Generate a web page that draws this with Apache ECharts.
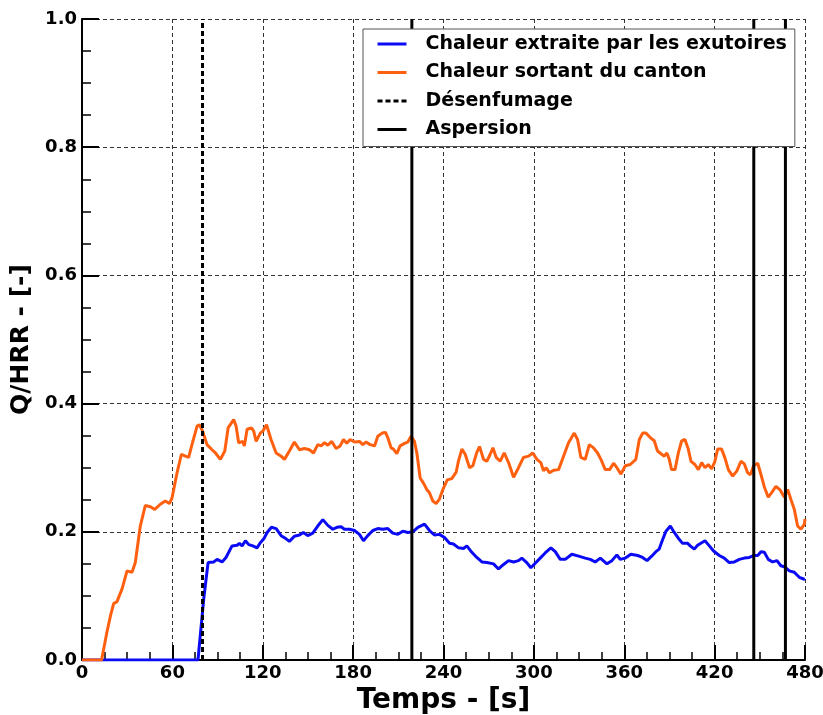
<!DOCTYPE html>
<html>
<head>
<meta charset="utf-8">
<script src="https://cdn.jsdelivr.net/npm/echarts@6/dist/echarts.min.js"></script>
<style>
  html, body { margin: 0; padding: 0; background: #fff; }
  #chart { width: 823px; height: 715px; }
</style>
</head>
<body>
<div id="chart"></div>
<script>
// temps (s) et Q/HRR
const tExtraite = [0, 77, 80.8, 83.7, 87.5, 89.7, 93, 95.6, 99.6, 103, 104.5, 106.3, 108.5, 110.7, 113.4, 116.2, 118.4, 120.7, 122.9, 125.8, 128.9, 132.2, 135.5, 137.7, 141, 144.4, 147, 149.9, 153.2, 156.5, 159.9, 163.2, 166.5, 169.2, 172, 174.2, 177.6, 180.9, 184.2, 186.9, 189.7, 193.1, 196.4, 199.7, 203, 206.3, 209.7, 213, 216.3, 219.6, 223, 227.4, 230.7, 234, 237.3, 240.7, 244, 246.6, 250, 253.3, 255.5, 258.8, 262.1, 265.5, 268.8, 273.2, 276.5, 279.9, 283.2, 286.5, 289.8, 292, 295.3, 298, 300.9, 304.2, 307.5, 311.3, 314.2, 317.5, 320.8, 325.2, 329.7, 334.1, 337.4, 340.7, 344.1, 348.5, 351.8, 355.1, 357.3, 360.7, 364.4, 368.9, 372.2, 375.1, 378.2, 381, 383.2, 385.5, 387.7, 390.6, 393.2, 395.9, 398.7, 402.1, 403.8, 406.5, 408.7, 411.4, 413.6, 416.5, 419.3, 423.1, 426.4, 429.7, 433.1, 436.4, 439.7, 443, 445.9, 448.6, 450.8, 453, 455.6, 458.5, 461.4, 464, 466.7, 469.6, 472.9, 476.2, 479.6, 480];
const qExtraite = [0, 0, 0.095, 0.152, 0.153, 0.157, 0.153, 0.16, 0.178, 0.179, 0.182, 0.178, 0.186, 0.18, 0.178, 0.175, 0.183, 0.189, 0.199, 0.207, 0.205, 0.194, 0.189, 0.185, 0.193, 0.195, 0.199, 0.194, 0.198, 0.209, 0.219, 0.21, 0.204, 0.207, 0.208, 0.204, 0.204, 0.202, 0.196, 0.186, 0.194, 0.202, 0.205, 0.204, 0.205, 0.198, 0.196, 0.201, 0.199, 0.2, 0.207, 0.212, 0.202, 0.195, 0.196, 0.191, 0.182, 0.181, 0.175, 0.174, 0.178, 0.168, 0.16, 0.153, 0.152, 0.15, 0.142, 0.149, 0.155, 0.153, 0.155, 0.159, 0.152, 0.144, 0.151, 0.159, 0.167, 0.175, 0.169, 0.157, 0.157, 0.165, 0.162, 0.159, 0.157, 0.153, 0.159, 0.15, 0.155, 0.164, 0.157, 0.159, 0.165, 0.163, 0.16, 0.155, 0.162, 0.169, 0.173, 0.188, 0.201, 0.209, 0.199, 0.19, 0.182, 0.182, 0.178, 0.173, 0.179, 0.183, 0.186, 0.178, 0.17, 0.163, 0.159, 0.152, 0.153, 0.157, 0.159, 0.16, 0.163, 0.163, 0.169, 0.168, 0.157, 0.153, 0.155, 0.147, 0.145, 0.139, 0.137, 0.129, 0.126, 0.127];

const tSortant = [0, 13, 16.6, 19, 21, 23.2, 26.6, 29.9, 33.2, 35.4, 38.7, 42, 45.4, 48.3, 52, 55.3, 58, 59.8, 63.1, 66, 68.6, 70.8, 73, 76.4, 77.9, 80.1, 83, 86.3, 88.6, 91.9, 94.8, 97, 100.7, 102.3, 104, 106.7, 107.8, 109.6, 112.5, 114, 115.6, 118.4, 120, 122.5, 125.5, 128.9, 132.2, 134.4, 137.7, 141, 144.4, 147.7, 151, 153.7, 156.5, 158.7, 161, 163.2, 165.8, 168.7, 171.4, 173.6, 175.8, 178, 180.9, 184.2, 186.4, 188.6, 191.3, 194.2, 196.4, 199.3, 201.5, 203, 205.2, 206.8, 209, 211.2, 214.1, 216.3, 218.5, 220.7, 222.3, 224.5, 226.7, 228.9, 230.7, 232.9, 235.1, 237.3, 239.6, 242.5, 245.5, 248.4, 250, 252.2, 254.4, 257.3, 259.5, 262.1, 263.9, 266.6, 268.8, 271, 272.8, 275, 277.6, 280.3, 283.2, 286.5, 289.8, 293.1, 296.5, 299.3, 302, 304.6, 306.4, 308.2, 310.4, 313.1, 316.4, 319.7, 323, 326.8, 329, 331.2, 334.1, 336.8, 339.6, 342.3, 344.5, 347.4, 350.3, 352.9, 355.1, 357.8, 360.7, 364, 367.7, 370, 372.2, 374.4, 377.3, 379.9, 382.1, 384.8, 386.6, 388.3, 389.9, 391.4, 393.7, 395.9, 398.1, 400.3, 402.5, 404.3, 406.9, 409.2, 411.4, 413.6, 415.8, 418, 420.2, 422, 424.6, 426.9, 429.1, 432, 434.8, 437.5, 439.7, 441.9, 443.7, 445.9, 448.6, 450.8, 453, 455.6, 457.9, 460.7, 463.6, 466.3, 468.5, 470.7, 472.9, 475.1, 477.3, 479.6, 480];
const qSortant = [0, 0, 0.044, 0.07, 0.088, 0.091, 0.111, 0.139, 0.137, 0.152, 0.209, 0.241, 0.239, 0.235, 0.243, 0.248, 0.244, 0.253, 0.292, 0.321, 0.318, 0.316, 0.336, 0.365, 0.367, 0.357, 0.336, 0.328, 0.323, 0.313, 0.326, 0.362, 0.375, 0.365, 0.339, 0.341, 0.334, 0.36, 0.362, 0.357, 0.341, 0.354, 0.357, 0.367, 0.344, 0.323, 0.318, 0.313, 0.326, 0.34, 0.328, 0.33, 0.328, 0.323, 0.336, 0.334, 0.339, 0.335, 0.341, 0.33, 0.334, 0.344, 0.338, 0.344, 0.34, 0.341, 0.336, 0.34, 0.336, 0.334, 0.349, 0.354, 0.355, 0.347, 0.331, 0.329, 0.322, 0.334, 0.338, 0.34, 0.349, 0.341, 0.323, 0.284, 0.276, 0.266, 0.261, 0.248, 0.244, 0.251, 0.266, 0.281, 0.283, 0.293, 0.311, 0.329, 0.321, 0.3, 0.303, 0.324, 0.333, 0.313, 0.31, 0.321, 0.331, 0.316, 0.31, 0.323, 0.308, 0.285, 0.3, 0.316, 0.318, 0.323, 0.313, 0.308, 0.295, 0.3, 0.292, 0.296, 0.297, 0.318, 0.339, 0.354, 0.344, 0.316, 0.313, 0.336, 0.331, 0.323, 0.313, 0.297, 0.297, 0.307, 0.3, 0.29, 0.303, 0.305, 0.313, 0.344, 0.354, 0.354, 0.347, 0.342, 0.326, 0.321, 0.318, 0.323, 0.313, 0.297, 0.297, 0.323, 0.342, 0.344, 0.329, 0.31, 0.305, 0.297, 0.308, 0.3, 0.305, 0.298, 0.31, 0.329, 0.329, 0.315, 0.297, 0.287, 0.295, 0.31, 0.306, 0.292, 0.289, 0.303, 0.307, 0.289, 0.27, 0.254, 0.261, 0.271, 0.265, 0.254, 0.266, 0.25, 0.235, 0.209, 0.204, 0.212, 0.22];

// instants des evenements (s)
const tDesenfumage = [80];
const tAspersion = [219, 446, 467];

const xTicks = { min: 0, max: 480, step: 60 };
const yTicks = { min: 0, max: 1, step: 0.2 };

const police = 'DejaVu Sans';

const paires = (ts, qs) => ts.map((t, i) => [t, qs[i]]);

// segments verticaux, separes par une valeur vide
const verticales = (ts) => {
  const pts = [];
  ts.forEach((t, i) => {
    if (i > 0) pts.push([t, '-']);
    pts.push([t, yTicks.min], [t, yTicks.max]);
  });
  return pts;
};

const getOption = () => {
  return {
    animation: false,
    grid: { left: 82, right: 18, top: 19, bottom: 55, containLabel: false, outerBoundsMode: 'none' },
    legend: {
      orient: 'vertical',
      left: 363,
      top: 29,
      padding: [4, 8, 6, 13],
      itemWidth: 29,
      itemHeight: 14,
      itemGap: 6.5,
      backgroundColor: '#fff',
      borderColor: '#555',
      borderWidth: 1,
      itemStyle: { opacity: 0 },
      lineStyle: { width: 3 },
      textStyle: { fontFamily: police, fontWeight: 'bold', fontSize: 19, color: '#000', lineHeight: 22, padding: [0, 0, 0, 14] },
      data: ['Chaleur extraite par les exutoires', 'Chaleur sortant du canton', 'Désenfumage', 'Aspersion']
    },
    xAxis: {
      type: 'value',
      min: xTicks.min,
      max: xTicks.max,
      interval: xTicks.step,
      name: 'Temps - [s]',
      nameLocation: 'middle',
      nameGap: 24,
      nameTextStyle: { fontFamily: police, fontWeight: 'bold', fontSize: 28, color: '#000' },
      axisLine: { lineStyle: { color: '#000', width: 2 } },
      axisTick: { inside: true, length: 15, lineStyle: { color: '#000', width: 2 } },
      minorTick: { show: true, splitNumber: 4, length: 8, lineStyle: { color: '#000', width: 1.5 } },
      axisLabel: { fontFamily: police, fontWeight: 'bold', fontSize: 18, color: '#000', margin: 4 },
      splitLine: { show: true, lineStyle: { color: '#333', width: 1, type: [4, 3] } }
    },
    yAxis: {
      type: 'value',
      min: yTicks.min,
      max: yTicks.max,
      interval: yTicks.step,
      name: 'Q/HRR - [-]',
      nameLocation: 'middle',
      nameGap: 45,
      nameTextStyle: { fontFamily: police, fontWeight: 'bold', fontSize: 25, color: '#000' },
      axisLine: { lineStyle: { color: '#000', width: 2 } },
      axisTick: { inside: true, length: 17, lineStyle: { color: '#000', width: 2 } },
      minorTick: { show: true, splitNumber: 4, length: 9, lineStyle: { color: '#000', width: 1.5 } },
      axisLabel: { fontFamily: police, fontWeight: 'bold', fontSize: 18, color: '#000', margin: 5, formatter: (v) => v.toFixed(1) },
      splitLine: { show: true, lineStyle: { color: '#333', width: 1, type: [4, 3] } }
    },
    series: [
      {
        name: 'Chaleur extraite par les exutoires',
        type: 'line',
        data: paires(tExtraite, qExtraite),
        symbol: 'none',
        lineStyle: { color: '#0a0af5', width: 3 },
        itemStyle: { color: '#0a0af5' }
      },
      {
        name: 'Chaleur sortant du canton',
        type: 'line',
        data: paires(tSortant, qSortant),
        symbol: 'none',
        lineStyle: { color: '#ff6010', width: 3 },
        itemStyle: { color: '#ff6010' }
      },
      {
        name: 'Désenfumage',
        type: 'line',
        data: verticales(tDesenfumage),
        symbol: 'none',
        lineStyle: { color: '#000', width: 3, type: [5, 3] },
        itemStyle: { color: '#000' }
      },
      {
        name: 'Aspersion',
        type: 'line',
        data: verticales(tAspersion),
        symbol: 'none',
        connectNulls: false,
        lineStyle: { color: '#000', width: 3 },
        itemStyle: { color: '#000' }
      }
    ]
  };
};

const chart = echarts.init(document.querySelector('#chart'));
chart.setOption(getOption());
</script>
</body>
</html>
